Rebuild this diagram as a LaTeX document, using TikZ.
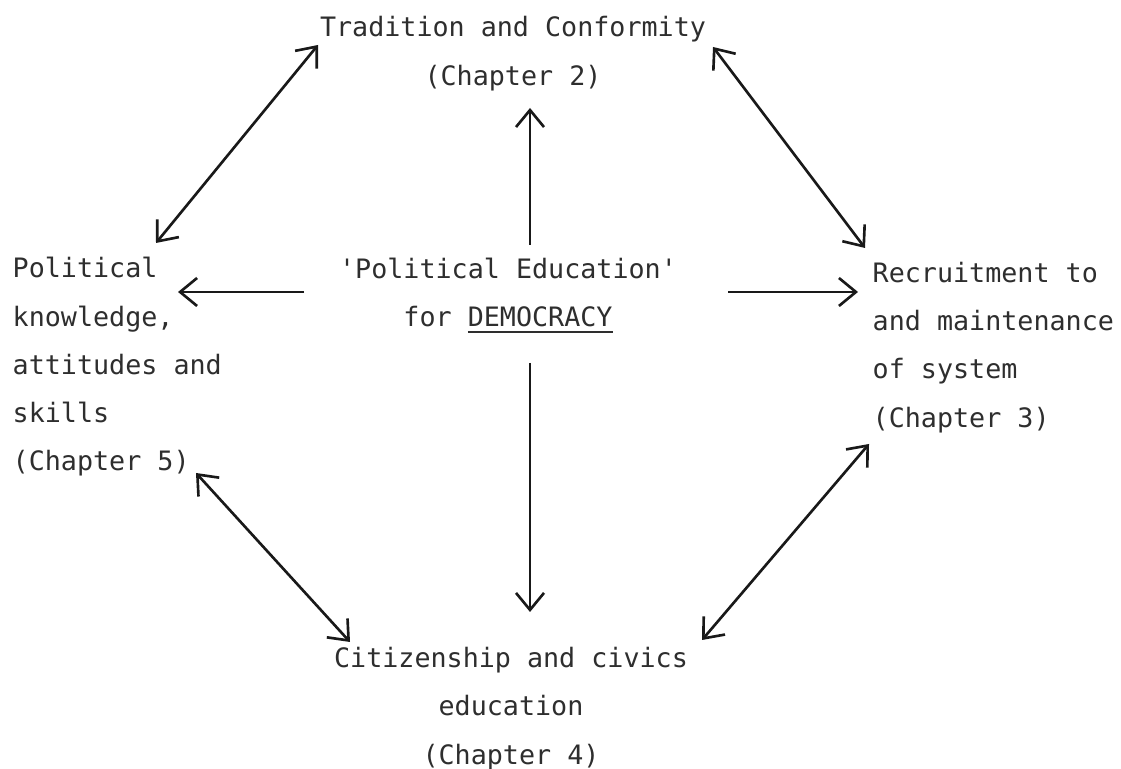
\documentclass[tikz,border=0pt]{standalone}
\usepackage{fontspec}
\setmonofont{DejaVu Sans Mono}
\usetikzlibrary{arrows.meta}
\tikzset{
  lbl/.style={inner sep=0pt, text=black!82, font=\ttfamily\fontsize{7.6pt}{13.7pt}\selectfont},
  arr/.style={line width=0.75pt, draw=black!90, -{Straight Barb[length=1.7mm,width=2.8mm]}},
  darr/.style={line width=0.75pt, draw=black!90, {Straight Barb[length=1.7mm,width=2.8mm]}-{Straight Barb[length=1.7mm,width=2.8mm]}}
}
\begin{document}
\begin{tikzpicture}
\useasboundingbox[fill=white] (0,0) rectangle (11.21,7.69);
% text blocks
\node[lbl, anchor=north, align=center] (top) at (5.13,7.665)
  {\strut Tradition and Conformity\\ \strut(Chapter 2)};
\node[lbl, anchor=north west, align=left] (left) at (0.12,5.255)
  {\strut Political\\ \strut knowledge,\\ \strut attitudes and\\ \strut skills\\ \strut(Chapter 5)};
\node[lbl, anchor=north, align=center] (mid) at (5.08,5.247)
  {\strut 'Political Education'\\ \strut for \underline{DEMOCRACY}};
\node[lbl, anchor=north west, align=left] (right) at (8.72,5.207)
  {\strut Recruitment to\\ \strut and maintenance\\ \strut of system\\ \strut(Chapter 3)};
\node[lbl, anchor=north, align=center] (bot) at (5.11,1.357)
  {\strut Citizenship and civics\\ \strut education\\ \strut(Chapter 4)};
% arrow end points
\coordinate (tlA) at (3.18,7.24);
\coordinate (tlB) at (1.56,5.26);
\coordinate (trA) at (7.13,7.22);
\coordinate (trB) at (8.65,5.21);
\coordinate (upA) at (5.30,5.24);
\coordinate (upB) at (5.30,6.61);
\coordinate (lfA) at (3.04,4.77);
\coordinate (lfB) at (1.78,4.77);
\coordinate (rtA) at (7.28,4.77);
\coordinate (rtB) at (8.58,4.77);
\coordinate (dnA) at (5.30,4.06);
\coordinate (dnB) at (5.30,1.57);
\coordinate (blA) at (1.96,2.96);
\coordinate (blB) at (3.50,1.27);
\coordinate (brA) at (8.69,3.25);
\coordinate (brB) at (7.02,1.29);
% connectors
\draw[darr] (tlB) -- (tlA);
\draw[darr] (trA) -- (trB);
\draw[arr] (upA) -- (upB);
\draw[arr] (lfA) -- (lfB);
\draw[arr] (rtA) -- (rtB);
\draw[arr] (dnA) -- (dnB);
\draw[darr] (blA) -- (blB);
\draw[darr] (brA) -- (brB);
\end{tikzpicture}
\end{document}
